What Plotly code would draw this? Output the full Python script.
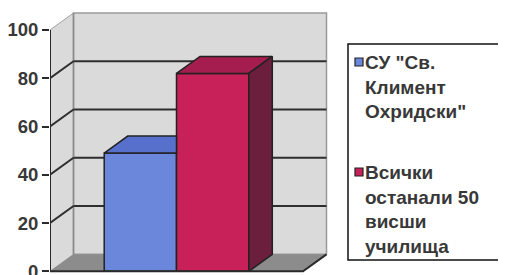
import plotly.graph_objects as go

# ---- data ----
series_names = ['СУ "Св.<br>Климент<br>Охридски"', 'Всички<br>останали 50<br>висши<br>училища']
values = [49, 82]
y_ticks = [0, 20, 40, 60, 80, 100]

# ---- styles ----
front_colors = ['#6b87dc', '#c8215a']
top_colors = ['#5670cc', '#a41d4e']
side_colors = ['#4a5fae', '#6b1f3d']
edge = '#222222'
wall = '#dadada'
floor = '#8c8c8c'
text_color = '#383838'
font_family = 'Liberation Sans'

OFF = 8                      # page body margin
W, H = 506 - OFF, 275 - OFF
ml = 50 - OFF
px_per_x = 253.0             # floor front spans x = 0..1
px_per_y = 2.415
depth_x = 23.5 / px_per_x
depth_y = 17.0 / px_per_y
ymin = -(H - (271.3 - OFF)) / px_per_y
ymax = 100 + (30 - OFF) / px_per_y
xmax = (W - ml) / px_per_x

n = len(values)
gap = 1.5
bw = 1.0 / (n + gap)
x_start = gap * bw / 2
ymax_axis = max(y_ticks)


def px_x(p):   # window pixel -> paper x
    return (p - OFF - ml) / (W - ml)


def px_y(p):   # window pixel -> paper y
    return 1 - (p - OFF) / H


fig = go.Figure()

# front faces
for i, (name, v) in enumerate(zip(series_names, values)):
    x0 = x_start + i * bw
    fig.add_trace(go.Bar(
        x=[x0 + bw / 2], y=[v], width=[bw], base=0, name=name.replace('<br>', ' '),
        marker=dict(color=front_colors[i], line=dict(color=edge, width=1.5)),
        showlegend=False, hoverinfo='name+y'))

# top and side faces
for i, v in enumerate(values):
    x0 = x_start + i * bw
    x1 = x0 + bw
    nxt = values[i + 1] if i + 1 < n else None
    if nxt is not None and nxt >= v:
        tx = [x0, x1, x1, x0 + depth_x, x0]
    else:
        tx = [x0, x1, x1 + depth_x, x0 + depth_x, x0]
    ty = [v, v, v + depth_y, v + depth_y, v]
    fig.add_trace(go.Scatter(x=tx, y=ty, fill='toself', fillcolor=top_colors[i],
                             mode='lines', line=dict(color=edge, width=1.5),
                             showlegend=False, hoverinfo='skip'))
    if nxt is None or nxt < v:
        sx = [x1, x1, x1 + depth_x, x1 + depth_x, x1]
        sy = [0, v, v + depth_y, depth_y, 0]
        fig.add_trace(go.Scatter(x=sx, y=sy, fill='toself', fillcolor=side_colors[i],
                                 mode='lines', line=dict(color=edge, width=1.5),
                                 showlegend=False, hoverinfo='skip'))

# front axis lines
fig.add_trace(go.Scatter(x=[0, 0, 1, 1 + depth_x], y=[ymax_axis, 0, 0, depth_y], mode='lines',
                         line=dict(color='#2a2a2a', width=2), showlegend=False, hoverinfo='skip'))

shapes = []
# left wall
shapes.append(dict(type='path', layer='below', xref='x', yref='y',
                   path=f'M0,0 L0,{ymax_axis} L{depth_x},{ymax_axis + depth_y} L{depth_x},{depth_y} Z',
                   fillcolor=wall, line=dict(color='#a0a0a0', width=1)))
# back wall
shapes.append(dict(type='rect', layer='below', xref='x', yref='y',
                   x0=depth_x, x1=1 + depth_x, y0=depth_y, y1=ymax_axis + depth_y,
                   fillcolor=wall, line=dict(color='#9a9a9a', width=1.5)))
# floor
shapes.append(dict(type='path', layer='below', xref='x', yref='y',
                   path=f'M0,0 L1,0 L{1 + depth_x},{depth_y} L{depth_x},{depth_y} Z',
                   fillcolor=floor, line=dict(width=0)))
# wall corner
shapes.append(dict(type='line', layer='below', xref='x', yref='y',
                   x0=depth_x, x1=depth_x, y0=depth_y, y1=ymax_axis + depth_y,
                   line=dict(color='#8a8a8a', width=1.5)))
# gridlines
for t in y_ticks[1:-1]:
    shapes.append(dict(type='line', layer='below', xref='x', yref='y',
                       x0=0, y0=t, x1=depth_x, y1=t + depth_y,
                       line=dict(color='#2e2e2e', width=2)))
    shapes.append(dict(type='line', layer='below', xref='x', yref='y',
                       x0=depth_x, y0=t + depth_y, x1=1 + depth_x, y1=t + depth_y,
                       line=dict(color='#2e2e2e', width=2)))

# legend (box, swatches, labels)
annotations = []
shapes.append(dict(type='rect', xref='paper', yref='paper',
                   x0=px_x(348), x1=px_x(503), y0=px_y(260), y1=px_y(44),
                   fillcolor='white', line=dict(color='#111111', width=1.5)))
entry_tops = [50, 160]
for i, name in enumerate(series_names):
    top = entry_tops[i]
    shapes.append(dict(type='rect', xref='paper', yref='paper',
                       x0=px_x(355), x1=px_x(363), y0=px_y(top + 16), y1=px_y(top + 8),
                       fillcolor=front_colors[i], line=dict(color=edge, width=1.2)))
    annotations.append(dict(xref='paper', yref='paper', x=px_x(363), y=px_y(top),
                            xanchor='left', yanchor='top', align='left', showarrow=False,
                            text=name,
                            font=dict(family=font_family, size=19, weight=700, color=text_color)))

fig.update_layout(
    width=W, height=H,
    margin=dict(l=ml, r=0, t=0, b=0, autoexpand=False),
    paper_bgcolor='white', plot_bgcolor='white',
    barmode='overlay',
    shapes=shapes,
    annotations=annotations,
    showlegend=False,
    xaxis=dict(range=[0, xmax], visible=False, fixedrange=True),
    yaxis=dict(range=[ymin, ymax], tickvals=y_ticks, showgrid=False, zeroline=False,
               showline=False, ticks='outside', ticklen=7, tickwidth=2, tickcolor='#2a2a2a',
               ticklabeloverflow='allow',
               tickfont=dict(family=font_family, size=18.5, weight=700, color=text_color),
               fixedrange=True),
)

fig.write_html('out.html')
